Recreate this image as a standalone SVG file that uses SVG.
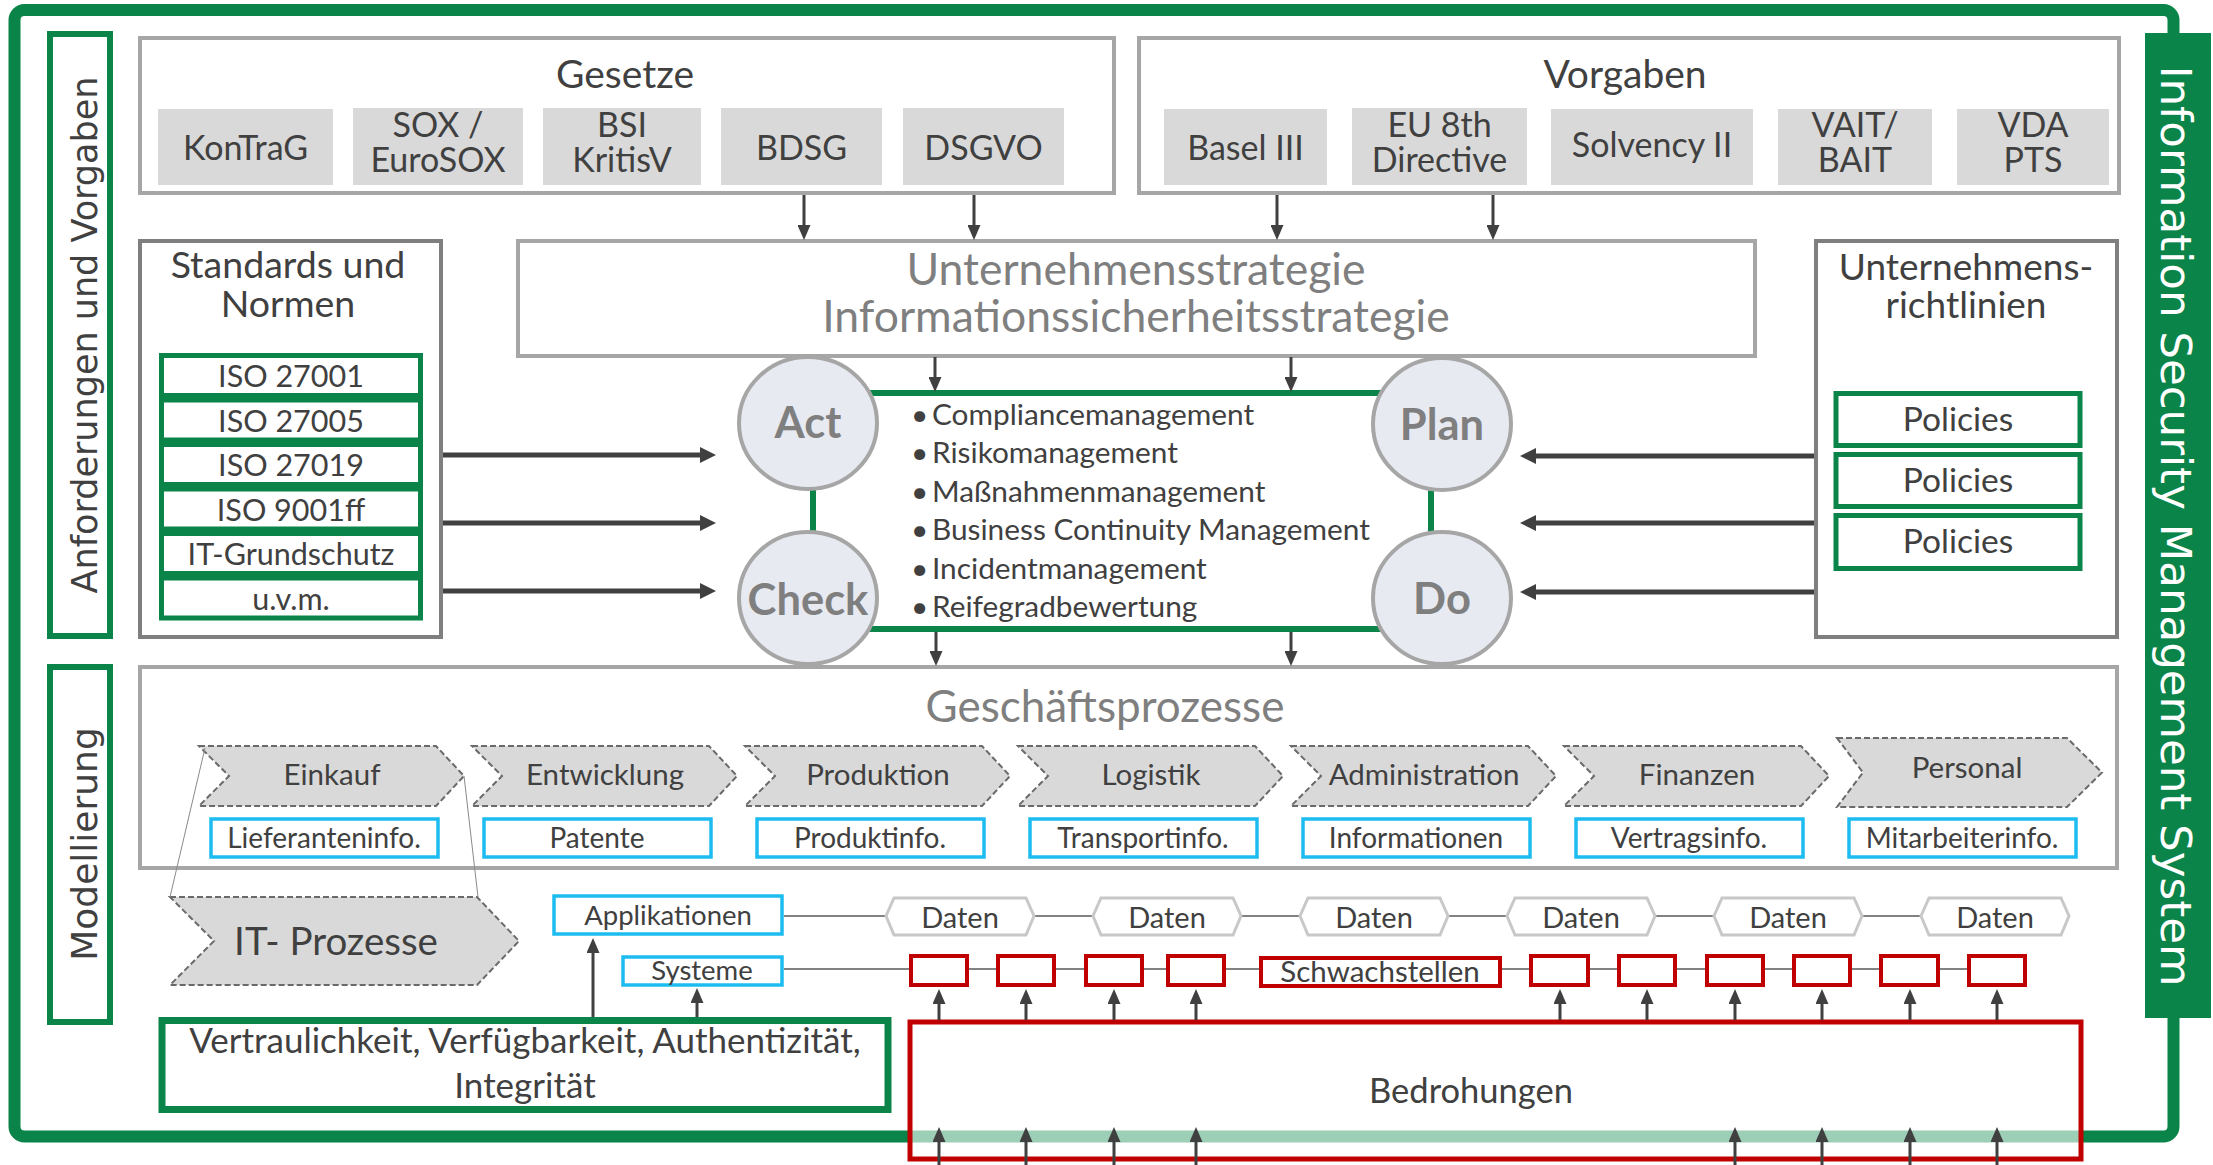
<svg xmlns="http://www.w3.org/2000/svg" width="2213" height="1165" viewBox="0 0 2213 1165">
<defs>
<style>
.t{font-family:Lato,"Open Sans",sans-serif;fill:#404040;text-anchor:middle}
.gt{fill:#7f7f7f}
.v{font-family:"DejaVu Sans",sans-serif;text-anchor:middle}
.box{fill:#fff;stroke:#a6a6a6;stroke-width:4}
.box2{fill:#fff;stroke:#7f7f7f;stroke-width:4}
.sub{fill:#d9d9d9}
.gbox{fill:#fff;stroke:#0b8449;stroke-width:5}
.bbox{fill:#fff;stroke:#1cbcf0;stroke-width:3.5}
.rbox{fill:#fff;stroke:#c00000;stroke-width:4}
.chev{fill:#d9d9d9;stroke:#6a6a6a;stroke-width:2;stroke-dasharray:6 3}
.hex{fill:#fff;stroke:#c8c8c8;stroke-width:3}
.pd{fill:#e8eaf2;stroke:#a6a6a6;stroke-width:4}
.pdt{font-family:Lato,sans-serif;font-weight:bold;fill:#7f7f7f;text-anchor:middle;font-size:43.5px}
.a{stroke:#404040;stroke-width:3;fill:none;marker-end:url(#ah)}
.ab{stroke:#404040;stroke-width:5;fill:none;marker-end:url(#ahb)}
.ln{stroke:#595959;stroke-width:1.5;fill:none}
.thin{stroke:#8a8a8a;stroke-width:1;fill:none}
.s{font-size:34px}
</style>
<marker id="ah" viewBox="0 0 15 13" refX="1" refY="6.5" markerWidth="15" markerHeight="13" markerUnits="userSpaceOnUse" orient="auto"><path d="M0,0 L15,6.5 L0,13 z" fill="#404040"/></marker>
<marker id="ahb" viewBox="0 0 16 16" refX="1" refY="8" markerWidth="16" markerHeight="16" markerUnits="userSpaceOnUse" orient="auto"><path d="M0,0 L16,8 L0,16 z" fill="#404040"/></marker>
</defs>
<rect width="2213" height="1165" fill="#fff"/>

<g id="frame">
<rect x="14.5" y="10" width="2159" height="1126.5" rx="10" fill="none" stroke="#0b8449" stroke-width="12"/>
</g>
<g id="isms-bar">
<rect x="2145" y="33" width="66" height="985" fill="#0b8449"/>
<text class="v" transform="translate(2161,526) rotate(90)" font-size="43.5" fill="#fff">Information Security Management System</text>
</g>

<g id="label-anforderungen">
<rect x="50" y="34" width="60" height="602" fill="#fff" stroke="#0b8449" stroke-width="6"/>
<text class="v" transform="translate(97,335) rotate(-90)" font-size="35" fill="#404040">Anforderungen und Vorgaben</text>
</g>
<g id="label-modellierung">
<rect x="50" y="667" width="60" height="355" fill="#fff" stroke="#0b8449" stroke-width="6"/>
<text class="v" transform="translate(97,844) rotate(-90)" font-size="36" fill="#404040">Modellierung</text>
</g>

<g id="connectors-lines">
<line class="ln" x1="784" y1="916" x2="1921" y2="916"/>
<line class="ln" x1="784" y1="969" x2="1967" y2="969"/>
</g>

<g id="gesetze">
<rect class="box" x="140" y="38" width="974" height="155"/>
<text class="t" x="625" y="88" font-size="39">Gesetze</text>
<rect class="sub" x="158" y="109" width="175" height="76"/>
<rect class="sub" x="353" y="108" width="170" height="77"/>
<rect class="sub" x="543" y="108" width="158" height="77"/>
<rect class="sub" x="721" y="108" width="161" height="77"/>
<rect class="sub" x="903" y="108" width="161" height="77"/>
<text class="t s" x="245.5" y="160">KonTraG</text>
<text class="t s"><tspan x="438" y="137">SOX /</tspan><tspan x="438" y="172">EuroSOX</tspan></text>
<text class="t s"><tspan x="622" y="137">BSI</tspan><tspan x="622" y="172">KritisV</tspan></text>
<text class="t s" x="801.5" y="160">BDSG</text>
<text class="t s" x="983.5" y="160">DSGVO</text>
</g>

<g id="vorgaben">
<rect class="box" x="1139" y="38" width="980" height="155"/>
<text class="t" x="1625" y="88" font-size="39">Vorgaben</text>
<rect class="sub" x="1164" y="109" width="163" height="76"/>
<rect class="sub" x="1352" y="108" width="175" height="77"/>
<rect class="sub" x="1551" y="109" width="202" height="76"/>
<rect class="sub" x="1778" y="109" width="154" height="76"/>
<rect class="sub" x="1957" y="109" width="152" height="76"/>
<text class="t s" x="1245.5" y="160">Basel III</text>
<text class="t s"><tspan x="1439.5" y="137">EU 8th</tspan><tspan x="1439.5" y="172">Directive</tspan></text>
<text class="t s" x="1652" y="157">Solvency II</text>
<text class="t s"><tspan x="1855" y="137">VAIT/</tspan><tspan x="1855" y="172">BAIT</tspan></text>
<text class="t s"><tspan x="2033" y="137">VDA</tspan><tspan x="2033" y="172">PTS</tspan></text>
</g>

<g id="strategie">
<rect class="box" x="518" y="241" width="1237" height="115"/>
<text class="t gt" font-size="44.5"><tspan x="1136" y="285">Unternehmensstrategie</tspan><tspan x="1136" y="332">Informationssicherheitsstrategie</tspan></text>
</g>

<g id="standards">
<rect class="box2" x="140" y="241" width="301" height="396"/>
<text class="t" font-size="37.5"><tspan x="288" y="278">Standards und</tspan><tspan x="288" y="317">Normen</tspan></text>
<rect class="gbox" x="161.5" y="355.5" width="259" height="40"/>
<rect class="gbox" x="161.5" y="400" width="259" height="40"/>
<rect class="gbox" x="161.5" y="444.5" width="259" height="40"/>
<rect class="gbox" x="161.5" y="489" width="259" height="40"/>
<rect class="gbox" x="161.5" y="533.5" width="259" height="40"/>
<rect class="gbox" x="161.5" y="578" width="259" height="40"/>
<text class="t" x="291" y="387" font-size="30.5">ISO 27001</text>
<text class="t" x="291" y="431.5" font-size="30.5">ISO 27005</text>
<text class="t" x="291" y="476" font-size="30.5">ISO 27019</text>
<text class="t" x="291" y="520.5" font-size="30.5">ISO 9001ff</text>
<text class="t" x="291" y="565" font-size="30.5">IT-Grundschutz</text>
<text class="t" x="291" y="609.5" font-size="30.5">u.v.m.</text>
</g>

<g id="richtlinien">
<rect class="box2" x="1816" y="241" width="301" height="396"/>
<text class="t" font-size="37"><tspan x="1966" y="280">Unternehmens-</tspan><tspan x="1966" y="318">richtlinien</tspan></text>
<rect class="gbox" x="1836" y="393.5" width="244" height="52"/>
<rect class="gbox" x="1836" y="454.5" width="244" height="52"/>
<rect class="gbox" x="1836" y="515.5" width="244" height="53"/>
<text class="t" x="1958" y="431" font-size="33.5">Policies</text>
<text class="t" x="1958" y="492" font-size="33.5">Policies</text>
<text class="t" x="1958" y="553" font-size="33.5">Policies</text>
</g>

<g id="pdca">
<rect x="813" y="393" width="618" height="236" fill="#fff" stroke="#0b8449" stroke-width="6"/>
<text class="t" font-size="29.8" style="text-anchor:start" fill="#3a3a3a">
<tspan x="911" y="425">•</tspan><tspan x="932" y="425">Compliancemanagement</tspan>
<tspan x="911" y="463.4">•</tspan><tspan x="932" y="463.4">Risikomanagement</tspan>
<tspan x="911" y="501.8">•</tspan><tspan x="932" y="501.8">Maßnahmenmanagement</tspan>
<tspan x="911" y="540.2">•</tspan><tspan x="932" y="540.2">Business Continuity Management</tspan>
<tspan x="911" y="578.6">•</tspan><tspan x="932" y="578.6">Incidentmanagement</tspan>
<tspan x="911" y="617">•</tspan><tspan x="932" y="617">Reifegradbewertung</tspan>
</text>
</g>
<g id="act"><ellipse class="pd" cx="808" cy="423" rx="69" ry="66"/><text class="pdt" x="808" y="438">Act</text></g>
<g id="check"><ellipse class="pd" cx="808" cy="598" rx="69" ry="66"/><text class="pdt" x="808" y="615">Check</text></g>
<g id="plan"><ellipse class="pd" cx="1442" cy="424" rx="69" ry="66"/><text class="pdt" x="1442" y="440">Plan</text></g>
<g id="do"><ellipse class="pd" cx="1442" cy="598" rx="69" ry="66"/><text class="pdt" x="1442" y="614">Do</text></g>

<g id="geschaeftsprozesse">
<rect class="box" x="140" y="667" width="1977" height="201"/>
<text class="t gt" x="1105" y="722" font-size="44">Geschäftsprozesse</text>
</g>
<g id="chevrons">
<path class="chev" d="M199,746 H436 L464,776 L436,806 H199 L229,776 Z"/>
<path class="chev" d="M472,746 H709 L737,776 L709,806 H472 L502,776 Z"/>
<path class="chev" d="M745,746 H982 L1010,776 L982,806 H745 L775,776 Z"/>
<path class="chev" d="M1018,746 H1255 L1283,776 L1255,806 H1018 L1048,776 Z"/>
<path class="chev" d="M1291,746 H1528 L1556,776 L1528,806 H1291 L1321,776 Z"/>
<path class="chev" d="M1564,746 H1801 L1829,776 L1801,806 H1564 L1594,776 Z"/>
<path class="chev" d="M1837,738 H2067 L2102,772.5 L2067,807 H1837 L1863,772.5 Z"/>
<text class="t" x="332" y="785" font-size="29.5">Einkauf</text>
<text class="t" x="605" y="785" font-size="29.5">Entwicklung</text>
<text class="t" x="878" y="785" font-size="29.5">Produktion</text>
<text class="t" x="1151" y="785" font-size="29.5">Logistik</text>
<text class="t" x="1424" y="785" font-size="29.5">Administration</text>
<text class="t" x="1697" y="785" font-size="29.5">Finanzen</text>
<text class="t" x="1967" y="778" font-size="29.5">Personal</text>
</g>
<g id="infos">
<rect class="bbox" x="211" y="819" width="227" height="38"/>
<rect class="bbox" x="484" y="819" width="227" height="38"/>
<rect class="bbox" x="757" y="819" width="227" height="38"/>
<rect class="bbox" x="1030" y="819" width="227" height="38"/>
<rect class="bbox" x="1303" y="819" width="227" height="38"/>
<rect class="bbox" x="1576" y="819" width="227" height="38"/>
<rect class="bbox" x="1849" y="819" width="227" height="38"/>
<text class="t" x="324" y="848" font-size="28">Lieferanteninfo.</text>
<text class="t" x="597" y="848" font-size="28">Patente</text>
<text class="t" x="870" y="848" font-size="28">Produktinfo.</text>
<text class="t" x="1143" y="848" font-size="28">Transportinfo.</text>
<text class="t" x="1416" y="848" font-size="28">Informationen</text>
<text class="t" x="1689" y="848" font-size="28">Vertragsinfo.</text>
<text class="t" x="1962" y="848" font-size="28">Mitarbeiterinfo.</text>
</g>

<g id="it-prozesse">
<path class="chev" d="M170,897 H477 L519,941 L477,985 H170 L214,941 Z"/>
<text class="t" x="336" y="955" font-size="38.5">IT- Prozesse</text>
</g>
<g id="applikationen">
<rect class="bbox" x="554" y="896" width="228" height="38"/>
<text class="t" x="668" y="925" font-size="27.5">Applikationen</text>
</g>
<g id="systeme">
<rect class="bbox" x="623" y="957" width="159" height="28"/>
<text class="t" x="702" y="980" font-size="27.5">Systeme</text>
</g>
<g id="daten">
<path class="hex" d="M886,916 L894,898 H1026 L1034,916 L1026,935 H894 Z"/>
<path class="hex" d="M1093,916 L1101,898 H1233 L1241,916 L1233,935 H1101 Z"/>
<path class="hex" d="M1300,916 L1308,898 H1440 L1448,916 L1440,935 H1308 Z"/>
<path class="hex" d="M1507,916 L1515,898 H1647 L1655,916 L1647,935 H1515 Z"/>
<path class="hex" d="M1714,916 L1722,898 H1854 L1862,916 L1854,935 H1722 Z"/>
<path class="hex" d="M1921,916 L1929,898 H2061 L2069,916 L2061,935 H1929 Z"/>
<text class="t" x="960" y="928" font-size="29">Daten</text>
<text class="t" x="1167" y="928" font-size="29">Daten</text>
<text class="t" x="1374" y="928" font-size="29">Daten</text>
<text class="t" x="1581" y="928" font-size="29">Daten</text>
<text class="t" x="1788" y="928" font-size="29">Daten</text>
<text class="t" x="1995" y="928" font-size="29">Daten</text>
</g>
<g id="schwachstellen">
<rect class="rbox" x="911" y="956" width="56" height="29"/>
<rect class="rbox" x="998" y="956" width="56" height="29"/>
<rect class="rbox" x="1086" y="956" width="56" height="29"/>
<rect class="rbox" x="1168" y="956" width="56" height="29"/>
<rect class="rbox" x="1261" y="958" width="239" height="28"/>
<rect class="rbox" x="1531" y="956" width="57" height="29"/>
<rect class="rbox" x="1619" y="956" width="56" height="29"/>
<rect class="rbox" x="1707" y="956" width="56" height="29"/>
<rect class="rbox" x="1794" y="956" width="56" height="29"/>
<rect class="rbox" x="1881" y="956" width="57" height="29"/>
<rect class="rbox" x="1969" y="956" width="56" height="29"/>
<text class="t" x="1380" y="982" font-size="29.5">Schwachstellen</text>
</g>
<g id="schutzziele">
<rect x="162" y="1020.5" width="726" height="89" fill="#fff" stroke="#0b8449" stroke-width="7"/>
<text class="t" font-size="35"><tspan x="525" y="1053">Vertraulichkeit, Verfügbarkeit, Authentizität,</tspan><tspan x="525" y="1098">Integrität</tspan></text>
</g>
<g id="bedrohungen">
<rect x="910" y="1022" width="1171" height="137" fill="#fff" fill-opacity="0.6" stroke="#c00000" stroke-width="5"/>
<text class="t" x="1471" y="1103" font-size="34.5">Bedrohungen</text>
</g>

<g id="connectors">
<line class="thin" x1="205" y1="748" x2="170" y2="897"/>
<line class="thin" x1="464" y1="776" x2="478" y2="897"/>
<line class="a" x1="804" y1="195" x2="804" y2="226"/>
<line class="a" x1="974" y1="195" x2="974" y2="226"/>
<line class="a" x1="1277" y1="195" x2="1277" y2="226"/>
<line class="a" x1="1493" y1="195" x2="1493" y2="226"/>
<line class="a" x1="935" y1="357" x2="935" y2="378"/>
<line class="a" x1="1291" y1="357" x2="1291" y2="378"/>
<line class="a" x1="936" y1="632" x2="936" y2="652"/>
<line class="a" x1="1291" y1="632" x2="1291" y2="652"/>
<line class="ab" x1="443" y1="455" x2="701" y2="455"/>
<line class="ab" x1="443" y1="523" x2="701" y2="523"/>
<line class="ab" x1="443" y1="591" x2="701" y2="591"/>
<line class="ab" x1="1814" y1="456" x2="1535" y2="456"/>
<line class="ab" x1="1814" y1="523" x2="1535" y2="523"/>
<line class="ab" x1="1814" y1="592" x2="1535" y2="592"/>
<line class="a" x1="593" y1="1017" x2="593" y2="952"/>
<line class="a" x1="697" y1="1017" x2="697" y2="1002"/>
<line class="a" x1="939" y1="1020" x2="939" y2="1003"/>
<line class="a" x1="1026" y1="1020" x2="1026" y2="1003"/>
<line class="a" x1="1114" y1="1020" x2="1114" y2="1003"/>
<line class="a" x1="1196" y1="1020" x2="1196" y2="1003"/>
<line class="a" x1="1560" y1="1020" x2="1560" y2="1003"/>
<line class="a" x1="1647" y1="1020" x2="1647" y2="1003"/>
<line class="a" x1="1735" y1="1020" x2="1735" y2="1003"/>
<line class="a" x1="1822" y1="1020" x2="1822" y2="1003"/>
<line class="a" x1="1910" y1="1020" x2="1910" y2="1003"/>
<line class="a" x1="1997" y1="1020" x2="1997" y2="1003"/>
<line class="a" x1="939" y1="1165" x2="939" y2="1141"/>
<line class="a" x1="1026" y1="1165" x2="1026" y2="1141"/>
<line class="a" x1="1114" y1="1165" x2="1114" y2="1141"/>
<line class="a" x1="1196" y1="1165" x2="1196" y2="1141"/>
<line class="a" x1="1735" y1="1165" x2="1735" y2="1141"/>
<line class="a" x1="1822" y1="1165" x2="1822" y2="1141"/>
<line class="a" x1="1910" y1="1165" x2="1910" y2="1141"/>
<line class="a" x1="1997" y1="1165" x2="1997" y2="1141"/>
</g>
</svg>
